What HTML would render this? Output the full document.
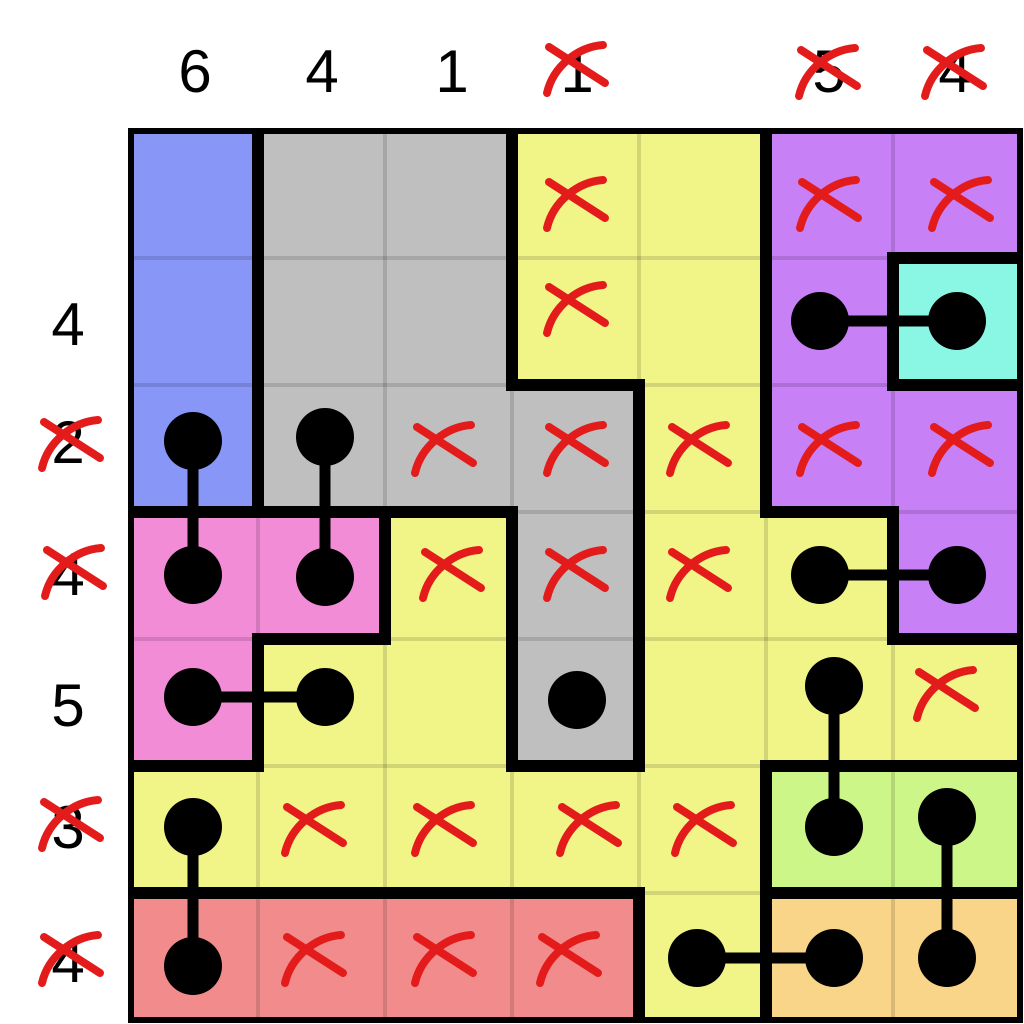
<!DOCTYPE html>
<html><head><meta charset="utf-8"><style>html,body{margin:0;padding:0;background:#fff}svg{display:block}</style></head>
<body>
<svg width="1024" height="1024" viewBox="0 0 1024 1024" xmlns="http://www.w3.org/2000/svg">
<defs>
<g id="x"><path d="M-28,-18 L28,18" stroke="#e31b1b" stroke-width="8" stroke-linecap="round" fill="none"/><path d="M26,-20 C0,-18 -24,2 -30,28" stroke="#e31b1b" stroke-width="8" stroke-linecap="round" fill="none"/></g>
<clipPath id="c"><rect x="128" y="128" width="895" height="895"/></clipPath>
</defs>
<g stroke="none">
<rect x="131" y="131" width="127" height="381" fill="#8896f8"/>
<rect x="258" y="131" width="254" height="381" fill="#bfbfbf"/>
<rect x="512" y="385" width="127" height="381" fill="#bfbfbf"/>
<rect x="512" y="131" width="254" height="254" fill="#f1f587"/>
<rect x="639" y="385" width="127" height="635" fill="#f1f587"/>
<rect x="385" y="512" width="127" height="254" fill="#f1f587"/>
<rect x="258" y="639" width="127" height="127" fill="#f1f587"/>
<rect x="131" y="766" width="635" height="127" fill="#f1f587"/>
<rect x="766" y="512" width="254" height="254" fill="#f1f587"/>
<rect x="766" y="131" width="254" height="381" fill="#c780f6"/>
<rect x="893" y="258" width="127" height="127" fill="#8af7e4"/>
<rect x="766" y="512" width="127" height="127" fill="#f1f587"/>
<rect x="893" y="512" width="127" height="127" fill="#c780f6"/>
<rect x="131" y="512" width="254" height="127" fill="#f28cd7"/>
<rect x="131" y="639" width="127" height="127" fill="#f28cd7"/>
<rect x="766" y="766" width="254" height="127" fill="#cdf688"/>
<rect x="766" y="893" width="254" height="127" fill="#f8d588"/>
<rect x="131" y="893" width="508" height="127" fill="#f28b8b"/>
</g>
<g stroke="rgba(0,0,0,0.13)" stroke-width="4">
<line x1="258" y1="131" x2="258" y2="1020"/><line x1="385" y1="131" x2="385" y2="1020"/><line x1="512" y1="131" x2="512" y2="1020"/><line x1="639" y1="131" x2="639" y2="1020"/><line x1="766" y1="131" x2="766" y2="1020"/><line x1="893" y1="131" x2="893" y2="1020"/>
<line y1="258" x1="131" y2="258" x2="1020"/><line y1="385" x1="131" y2="385" x2="1020"/><line y1="512" x1="131" y2="512" x2="1020"/><line y1="639" x1="131" y2="639" x2="1020"/><line y1="766" x1="131" y2="766" x2="1020"/><line y1="893" x1="131" y2="893" x2="1020"/>
</g>
<g stroke="#000" stroke-width="12" stroke-linecap="square" clip-path="url(#c)">
<line x1="258" y1="131" x2="258" y2="512"/><line x1="258" y1="639" x2="258" y2="766"/>
<line x1="385" y1="512" x2="385" y2="639"/>
<line x1="512" y1="131" x2="512" y2="385"/><line x1="512" y1="512" x2="512" y2="766"/>
<line x1="639" y1="385" x2="639" y2="766"/><line x1="639" y1="893" x2="639" y2="1020"/>
<line x1="766" y1="131" x2="766" y2="512"/><line x1="766" y1="766" x2="766" y2="1020"/>
<line x1="893" y1="258" x2="893" y2="385"/><line x1="893" y1="512" x2="893" y2="639"/>
<line x1="893" y1="258" x2="1020" y2="258"/>
<line x1="512" y1="385" x2="639" y2="385"/><line x1="893" y1="385" x2="1020" y2="385"/>
<line x1="131" y1="512" x2="512" y2="512"/><line x1="766" y1="512" x2="893" y2="512"/>
<line x1="258" y1="639" x2="385" y2="639"/><line x1="893" y1="639" x2="1020" y2="639"/>
<line x1="131" y1="766" x2="258" y2="766"/><line x1="512" y1="766" x2="639" y2="766"/><line x1="766" y1="766" x2="1020" y2="766"/>
<line x1="131" y1="893" x2="639" y2="893"/><line x1="766" y1="893" x2="1020" y2="893"/>
</g>
<rect x="131" y="131" width="889" height="889" fill="none" stroke="#000" stroke-width="6"/>
<g stroke="#000" stroke-width="11">
<line x1="193" y1="441" x2="193" y2="575"/><line x1="325" y1="437" x2="325" y2="577"/>
<line x1="193" y1="697" x2="325" y2="697"/><line x1="820" y1="321" x2="957" y2="321"/>
<line x1="820" y1="575" x2="957" y2="575"/><line x1="834" y1="686" x2="834" y2="827"/>
<line x1="947" y1="817" x2="947" y2="958"/><line x1="697" y1="958" x2="834" y2="958"/>
<line x1="193" y1="827" x2="193" y2="966"/>
</g>
<g fill="#000">
<circle cx="193" cy="441" r="29"/><circle cx="193" cy="575" r="29"/><circle cx="325" cy="437" r="29"/><circle cx="325" cy="577" r="29"/>
<circle cx="193" cy="697" r="29"/><circle cx="325" cy="697" r="29"/><circle cx="577" cy="700" r="29"/>
<circle cx="820" cy="321" r="29"/><circle cx="957" cy="321" r="29"/><circle cx="820" cy="575" r="29"/><circle cx="957" cy="575" r="29"/>
<circle cx="834" cy="686" r="29"/><circle cx="834" cy="827" r="29"/><circle cx="947" cy="817" r="29"/><circle cx="947" cy="958" r="29"/>
<circle cx="697" cy="958" r="29"/><circle cx="834" cy="958" r="29"/><circle cx="193" cy="827" r="29"/><circle cx="193" cy="966" r="29"/>
</g>
<g font-family="Liberation Sans, sans-serif" font-size="60" text-anchor="middle" fill="#000">
<text x="195" y="92">6</text><text x="322" y="92">4</text><text x="452" y="92">1</text><text x="577" y="92">1</text><text x="829" y="92">5</text><text x="955" y="92">4</text>
<text x="68" y="345">4</text><text x="68" y="463">2</text><text x="68" y="595">4</text><text x="68" y="726">5</text><text x="68" y="848">3</text><text x="68" y="982">4</text>
</g>
<use href="#x" x="577" y="65"/><use href="#x" x="829" y="68"/><use href="#x" x="955" y="68"/>
<use href="#x" x="72" y="440"/><use href="#x" x="75" y="568"/><use href="#x" x="72" y="820"/><use href="#x" x="72" y="955"/>
<use href="#x" x="577" y="200"/><use href="#x" x="577" y="305"/><use href="#x" x="830" y="200"/><use href="#x" x="962" y="200"/>
<use href="#x" x="445" y="445"/><use href="#x" x="577" y="445"/><use href="#x" x="700" y="445"/><use href="#x" x="830" y="445"/><use href="#x" x="962" y="445"/>
<use href="#x" x="453" y="570"/><use href="#x" x="577" y="570"/><use href="#x" x="700" y="570"/><use href="#x" x="947" y="690"/>
<use href="#x" x="315" y="825"/><use href="#x" x="445" y="825"/><use href="#x" x="590" y="825"/><use href="#x" x="705" y="825"/>
<use href="#x" x="315" y="955"/><use href="#x" x="445" y="955"/><use href="#x" x="570" y="955"/>
</svg>
</body></html>
